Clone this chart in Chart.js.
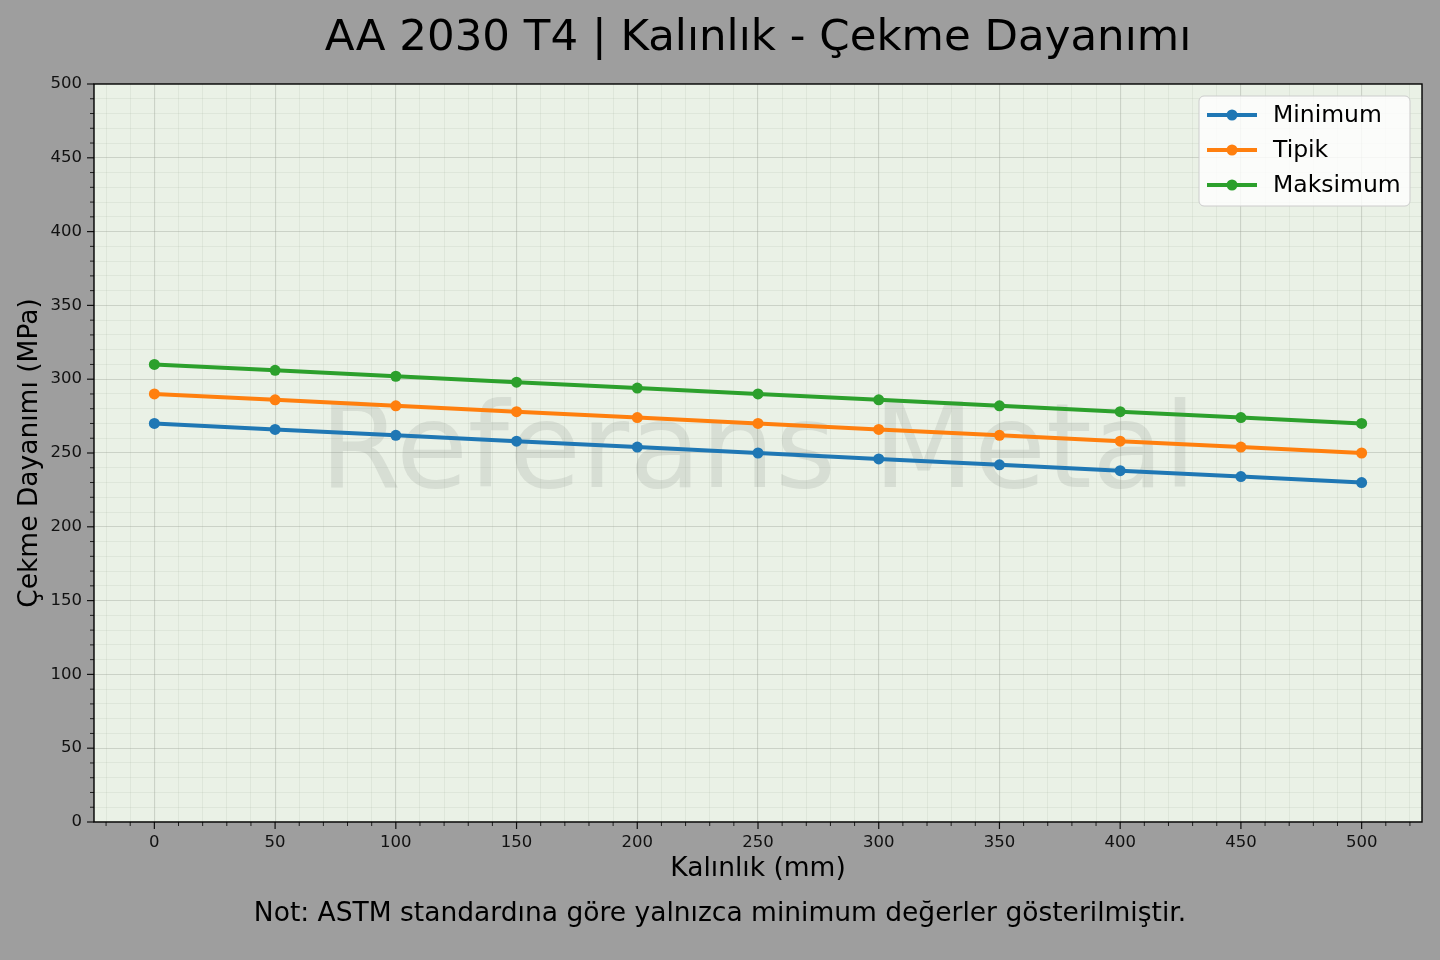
<!DOCTYPE html>
<html>
<head>
<meta charset="utf-8">
<script src="https://cdn.jsdelivr.net/npm/chart.js@4.4.0/dist/chart.umd.min.js"></script>
<style>
  html, body { margin: 0; padding: 0; background: #9e9e9e; }
  #wrap { width: 1440px; height: 960px; }
</style>
</head>
<body>
<div id="wrap"><canvas id="chart" width="1440" height="960"></canvas></div>
<script>
// values
const thickness = [0, 50, 100, 150, 200, 250, 300, 350, 400, 450, 500];
const minimum   = [270, 266, 262, 258, 254, 250, 246, 242, 238, 234, 230];
const typical   = [290, 286, 282, 278, 274, 270, 266, 262, 258, 254, 250];
const maximum   = [310, 306, 302, 298, 294, 290, 286, 282, 278, 274, 270];
const seriesNames = ['Minimum', 'Tipik', 'Maksimum'];
const seriesColors = ['#1f77b4', '#ff7f0e', '#2ca02c'];

const titleText = 'AA 2030 T4 | Kalınlık - Çekme Dayanımı';
const noteText = 'Not: ASTM standardına göre yalnızca minimum değerler gösterilmiştir.';
const xTitle = 'Kalınlık (mm)';
const yTitle = 'Çekme Dayanımı (MPa)';
const watermark = 'Referans Metal';

const FONT = '"DejaVu Sans", "Liberation Sans", sans-serif';
const FIG_BG = '#9e9e9e';
const AX_BG = '#eaf1e6';

const toPoints = vals => thickness.map((t, i) => ({ x: t, y: vals[i] }));
const allSeries = [minimum, typical, maximum];

const datasets = allSeries.map((vals, i) => ({
  label: seriesNames[i],
  data: toPoints(vals),
  borderColor: seriesColors[i],
  backgroundColor: seriesColors[i],
  borderWidth: 4,
  pointRadius: 5.5,
  pointHoverRadius: 5.5,
  pointBorderWidth: 0,
  tension: 0
}));

const isMajor = v => Math.abs(v % 50) < 1e-9;

const gridOpts = {
  drawTicks: false,
  color: ctx => isMajor(ctx.tick.value) ? 'rgba(150,155,145,0.36)' : 'rgba(160,170,155,0.2)',
  lineWidth: ctx => isMajor(ctx.tick.value) ? 1.1 : 0.8
};

const tickLabel = v => isMajor(v) ? String(v) : '';

// minor ticks every 10 across the scale's range
const tensTicks = s => {
  const out = [];
  for (let v = Math.ceil(s.min / 10) * 10; v <= s.max; v += 10) out.push({ value: v });
  s.ticks = out;
};

// figure & axes background, watermark
const backdrop = {
  id: 'backdrop',
  beforeDraw(chart) {
    const { ctx, chartArea: a } = chart;
    ctx.save();
    ctx.fillStyle = FIG_BG;
    ctx.fillRect(0, 0, chart.width, chart.height);
    ctx.fillStyle = AX_BG;
    ctx.fillRect(a.left, a.top, a.right - a.left, a.bottom - a.top);
    ctx.restore();
  },
  beforeDatasetsDraw(chart) {
    const { ctx, chartArea: a } = chart;
    ctx.save();
    ctx.font = '117px ' + FONT;
    ctx.fillStyle = 'rgba(120,125,120,0.16)';
    ctx.textAlign = 'center';
    ctx.textBaseline = 'middle';
    ctx.fillText(watermark, (a.left + a.right) / 2, (a.top + a.bottom) / 2 + 4);
    ctx.restore();
  }
};

// frame, tick marks, titles, legend
const decor = {
  id: 'decor',
  afterDraw(chart) {
    const { ctx, chartArea: a } = chart;
    const xs = chart.scales.x, ys = chart.scales.y;
    ctx.save();

    // tick marks
    ctx.strokeStyle = '#111';
    xs.ticks.forEach(t => {
      const px = xs.getPixelForValue(t.value);
      const len = isMajor(t.value) ? 7 : 4;
      ctx.lineWidth = isMajor(t.value) ? 1.2 : 0.9;
      ctx.beginPath();
      ctx.moveTo(px, a.bottom);
      ctx.lineTo(px, a.bottom + len);
      ctx.stroke();
    });
    ys.ticks.forEach(t => {
      const py = ys.getPixelForValue(t.value);
      const len = isMajor(t.value) ? 7 : 4;
      ctx.lineWidth = isMajor(t.value) ? 1.2 : 0.9;
      ctx.beginPath();
      ctx.moveTo(a.left, py);
      ctx.lineTo(a.left - len, py);
      ctx.stroke();
    });

    // frame
    ctx.lineWidth = 1.4;
    ctx.strokeStyle = '#000';
    ctx.strokeRect(a.left, a.top, a.right - a.left, a.bottom - a.top);

    // title and note
    ctx.fillStyle = '#000';
    ctx.textAlign = 'center';
    ctx.textBaseline = 'middle';
    ctx.font = '43.5px ' + FONT;
    ctx.fillText(titleText, (a.left + a.right) / 2, 39);
    ctx.font = '26.5px ' + FONT;
    ctx.fillText(noteText, chart.width / 2, 914);

    // legend
    const bx = 1199, by = 96, bw = 211, bh = 110, r = 5;
    ctx.fillStyle = 'rgba(255,255,255,0.8)';
    ctx.strokeStyle = '#cccccc';
    ctx.lineWidth = 1;
    ctx.beginPath();
    ctx.roundRect(bx, by, bw, bh, r);
    ctx.fill();
    ctx.stroke();
    ctx.font = '23.5px ' + FONT;
    ctx.textAlign = 'left';
    chart.data.datasets.forEach((ds, i) => {
      const y = 115 + i * 35;
      ctx.strokeStyle = ds.borderColor;
      ctx.lineWidth = 4;
      ctx.beginPath();
      ctx.moveTo(1207, y);
      ctx.lineTo(1257, y);
      ctx.stroke();
      ctx.fillStyle = ds.borderColor;
      ctx.beginPath();
      ctx.arc(1232, y, 5.5, 0, Math.PI * 2);
      ctx.fill();
      ctx.fillStyle = '#000';
      ctx.fillText(ds.label, 1273, y + 1);
    });
    ctx.restore();
  }
};

Chart.defaults.font.family = FONT;
Chart.defaults.color = '#222';

new Chart(document.getElementById('chart'), {
  type: 'line',
  data: { datasets },
  options: {
    responsive: false,
    animation: false,
    devicePixelRatio: 1,
    layout: { padding: { top: 84, right: 18, left: 0, bottom: 68 } },
    plugins: {
      legend: { display: false },
      title: { display: false },
      tooltip: { enabled: false }
    },
    scales: {
      x: {
        type: 'linear',
        min: -25,
        max: 525,
        border: { display: false },
        grid: gridOpts,
        afterBuildTicks: tensTicks,
        afterFit: s => { s.height = 70; },
        ticks: {
          autoSkip: false,
          maxRotation: 0,
          padding: 11,
          font: { size: 16.5 },
          color: '#111',
          callback: tickLabel
        },
        title: {
          display: true,
          text: xTitle,
          color: '#000',
          font: { size: 26.5 },
          padding: { top: 0, bottom: 7 }
        }
      },
      y: {
        min: 0,
        max: 500,
        border: { display: false },
        grid: gridOpts,
        afterBuildTicks: tensTicks,
        afterFit: s => { s.width = 94; },
        ticks: {
          autoSkip: false,
          padding: 12,
          font: { size: 16.5 },
          color: '#111',
          callback: tickLabel
        },
        title: {
          display: true,
          text: yTitle,
          color: '#000',
          font: { size: 26.5 },
          padding: { top: 14, bottom: 0 }
        }
      }
    }
  },
  plugins: [backdrop, decor]
});
</script>
</body>
</html>
